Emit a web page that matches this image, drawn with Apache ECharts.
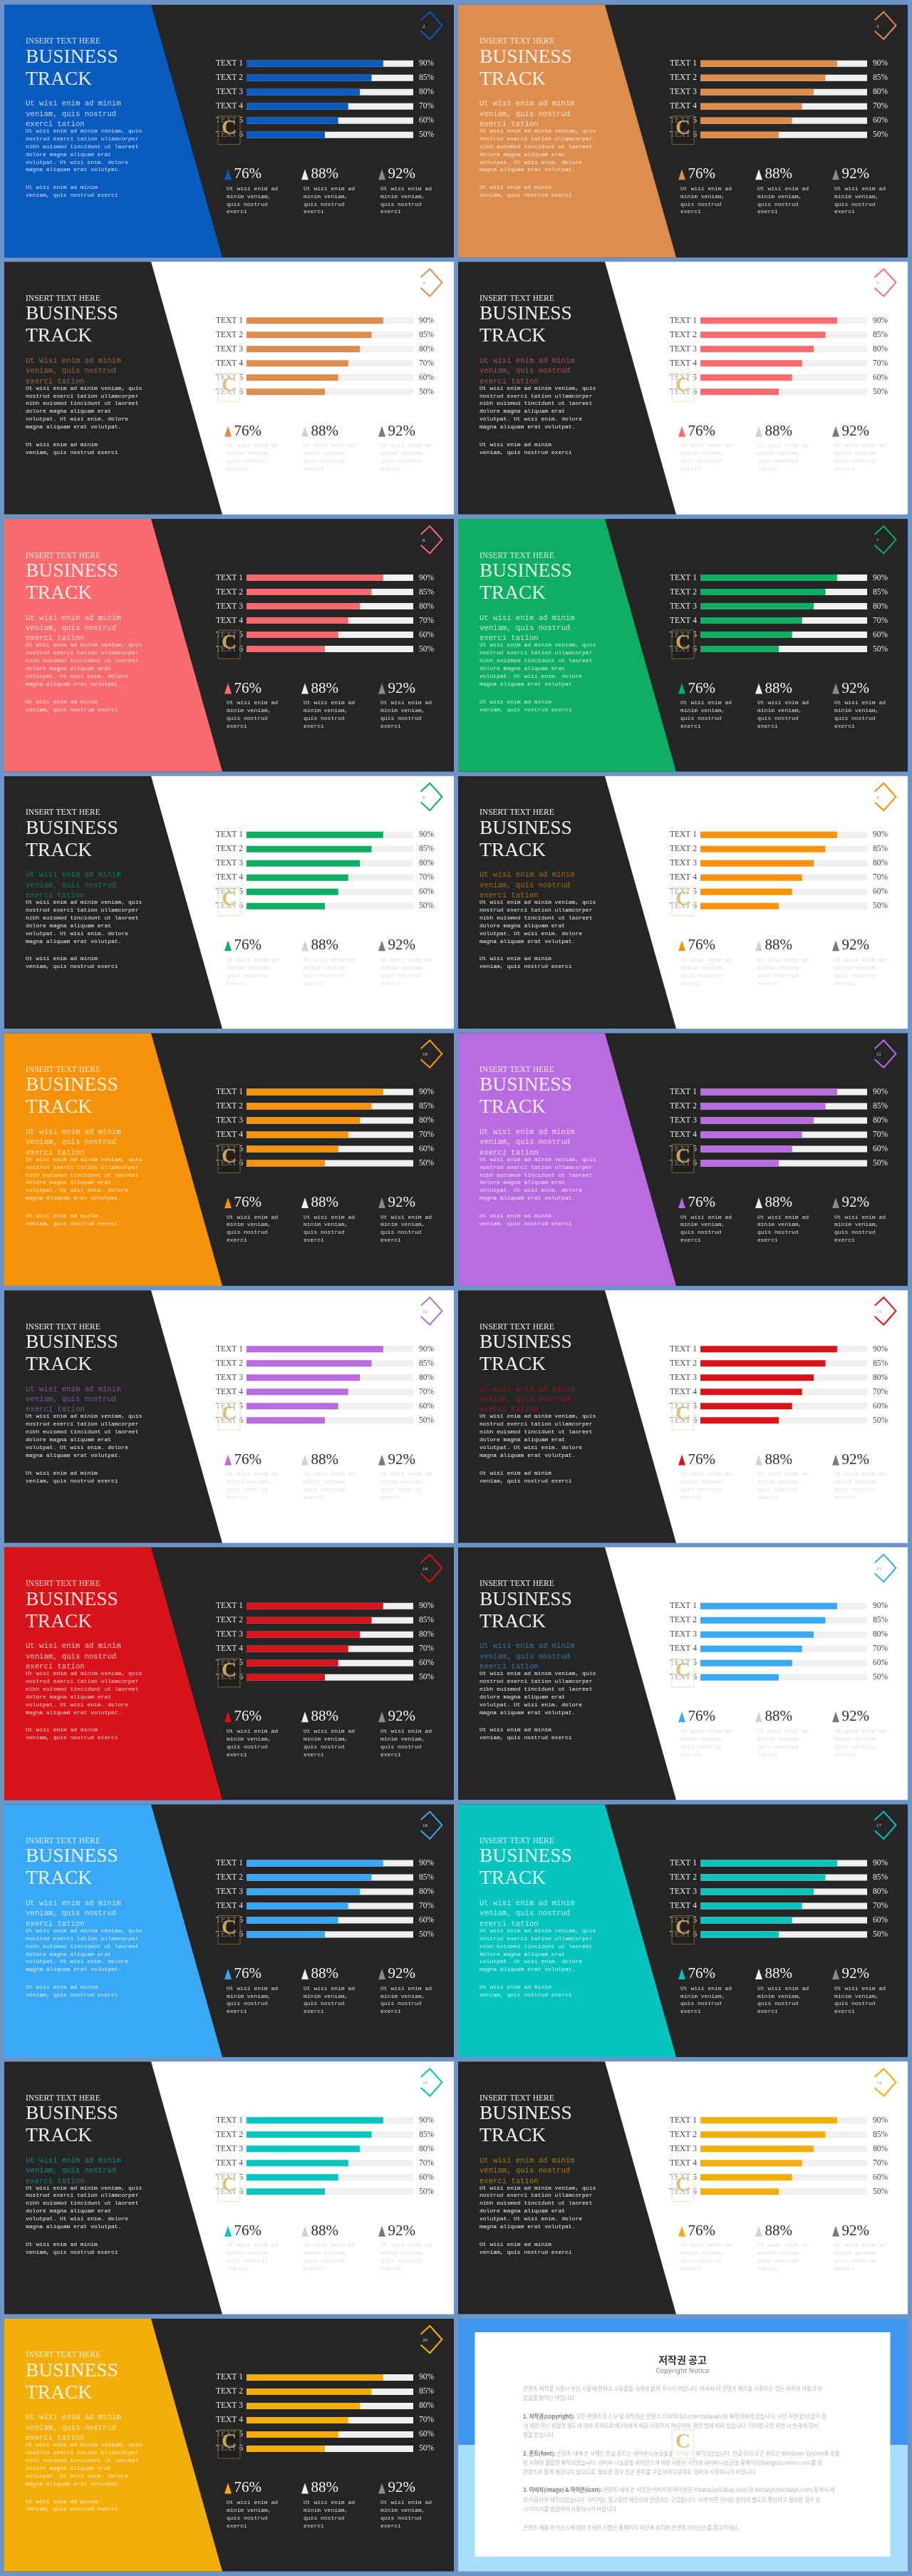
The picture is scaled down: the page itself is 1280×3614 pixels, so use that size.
<!DOCTYPE html>
<html>
<head>
<meta charset="utf-8">
<style>html,body{margin:0;padding:0;background:#6d94c6}#c{width:1280px;height:3614px}</style>
<script src="https://cdn.jsdelivr.net/npm/echarts@6/dist/echarts.min.js"></script>
</head>
<body>
<div id="c"></div>
<script>
// ---- data ----
const barCategories = ['TEXT 1','TEXT 2','TEXT 3','TEXT 4','TEXT 5','TEXT 6'];
const barFill = [82, 75, 68, 61, 55, 47];
const barPercentLabels = ['90%','85%','80%','70%','60%','50%'];
const kpiCategories = ['KPI 1','KPI 2','KPI 3'];
const kpiValues = [76, 88, 92];
const slideAccents = ['#0a5bbf','#dd8d4e','#dd8d4e','#f96b6e','#f96b6e','#0fae63','#0fae63','#f7930a','#f7930a','#b96cdf','#b96cdf','#d9131a','#d9131a','#3aa9f5','#3aa9f5','#05c4bd','#05c4bd','#f4ae0a','#f4ae0a'];
const slideVariants = ['A','A','B','B','A','A','B','B','A','A','B','B','A','B','A','A','B','B','A'];
const pageNumbers = ['2','3','4','5','6','7','8','9','10','11','12','13','14','15','16','17','18','19','20'];
const eyebrow = 'INSERT TEXT HERE';
const titleLines = ['BUSINESS','TRACK'];
const subHeading = 'Ut wisi enim ad minim\nveniam, quis nostrud\nexerci tation';
const bodyText = 'Ut wisi enim ad minim veniam, quis\nnostrud exerci tation ullamcorper\nnibh euismod tincidunt ut laoreet\ndolore magna aliquam erat\nvolutpat. Ut wisi enim. dolore\nmagna aliquam erat volutpat.';
const footText = 'Ut wisi enim ad minim\nveniam, quis nostrud exerci';
const kpiCaption = 'Ut wisi enim ad\nminim veniam,\nquis nostrud\nexerci';
const noticeTitle = '저작권 공고';
const noticeSub = 'Copyright Notice';
const noticeLines = [
 ['', '콘텐츠 제작물 사용시 본인 사용에 한하고 소유물을 사례와 밝혀 주시기 바랍니다. 따라서 이 콘텐츠 제작물 사용하는 것은 저작권 사용과 보호에 동의하시는 것입니다'],
 ['', '셨음을 밝히는 바입니다.'],
 ['1. 저작권(copyright): ', '모든 콘텐츠의 소유 및 저작권은 콘텐츠 디자이너(Contentsdavao)와 제작자에게 있습니다. 사전 서면 합의 없이 결합하여 제공, 구입한 콘텐츠의'],
 ['', '내 계정 아닌 상업적 용도에 따라 목적으로 제3자에게 제공 사용하지 아니하며, 관련 법에 따라 있습니다. 이러한 규정 위반 시 손해에 민사 및 형사상의 처'],
 ['', '벌을 받습니다.'],
 ['2. 폰트(font): ', '콘텐츠 내에 쓴 서체는 한글 폰트는 네이버 나눔글꼴을 저작물로 제작되었습니다. 한글 외의 모든 폰트는 Windows System에 포함'],
 ['', '된 서체와 결합된 제작되었습니다. 네이버 나눔글꼴 라이선스에 대한 사항은 사전에 네이버 나눔글꼴 홈페이지(hangeul.naver.com)를 참고하세요. 폰트는'],
 ['', '콘텐츠와 함께 제공되지 않으므로, 필요한 경우 전문 폰트를 구입하여 다운로드 받아야 사용하시기 바랍니다.'],
 ['3. 이미지(image) & 아이콘(icon): ', '콘텐츠 내에 쓴 사진은 이미지와 아이콘은 Pixabay(pixabay.com)와 Webalys(iwebalys.com) 등에서 제공된 것을 저작물'],
 ['', '로 이용하여 제작되었습니다. 이미지는 참고용만 제공되며 콘텐츠는 구입합니다. 이에 따른 권리는 원저자 별도로 확인하고 필요한 경우 원저를 취득하여'],
 ['', '나 이미지를 변경하여 사용하시기 바랍니다.'],
 ['', '콘텐츠 제품 라이선스에 대한 자세한 사항은 홈페이지 하단에 위치한 콘텐츠 라이선스를 참고하세요.']
];

// ---- layout helpers ----
const COL_X = [6, 643];
const ROW_Y0 = 6.67, ROW_STEP = 360.7;
const SW = 631, SH = 354.5;
const serif = '"Liberation Serif", serif';
const mono = '"Liberation Mono", monospace';
const DARK = '#252525';

const graphics = [], grids = [], xAxes = [], yAxes = [], series = [];

function txt(x, y, text, color, size, family, extra) {
  graphics.push(Object.assign({ type: 'text', x, y, silent: true,
    style: Object.assign({ text, fill: color, fontSize: size, fontFamily: family, align: 'left', verticalAlign: 'middle' }, (extra && extra.style) || {}) },
    extra && extra.z != null ? { z: extra.z } : {}));
}
function watermark(ox, oy, onDark) {
  graphics.push({ type: 'rect', z: 100, silent: true, shape: { x: ox + 300, y: oy + 156, width: 31, height: 40 },
    style: { fill: onDark ? 'rgba(30,28,24,0.55)' : 'rgba(255,255,255,0.5)', stroke: onDark ? '#7a6436' : '#e9dfc6', lineWidth: 1 } });
  txt(ox + 315.5, oy + 174, 'C', onDark ? '#c9a55c' : '#dcc27a', 29, serif, { z: 101, style: { align: 'center', fontWeight: 'bold' } });
}

slideAccents.forEach((accent, i) => {
  const col = i % 2, row = Math.floor(i / 2);
  const ox = COL_X[col], oy = ROW_Y0 + ROW_STEP * row;
  const isA = slideVariants[i] === 'A';
  const panelCol = isA ? accent : DARK;
  const restCol = isA ? DARK : '#ffffff';
  const leftText = isA ? 'rgba(255,255,255,0.8)' : '#eeeeee';
  const rightText = isA ? '#e6e6e6' : '#4a4a4a';

  graphics.push({ type: 'rect', silent: true, shape: { x: ox, y: oy, width: SW, height: SH }, style: { fill: restCol } });
  graphics.push({ type: 'polygon', silent: true, shape: { points: [[ox, oy], [ox + 206, oy], [ox + 306, oy + SH], [ox, oy + SH]] }, style: { fill: panelCol } });
  graphics.push({ type: 'polyline', silent: true,
    shape: { points: [[ox + 584.6, oy + 21.7], [ox + 597.3, oy + 10], [ox + 614.4, oy + 29], [ox + 597.3, oy + 48.3], [ox + 584.6, oy + 36.7]] },
    style: { stroke: accent, lineWidth: 2, fill: 'none' } });
  txt(ox + 587, oy + 30, pageNumbers[i], isA ? '#dddddd' : '#999999', 7, serif);

  txt(ox + 30, oy + 51.5, eyebrow, leftText, 11.5, serif);
  txt(ox + 30, oy + 73.7, titleLines[0], isA ? 'rgba(255,255,255,0.88)' : '#f2f2f2', 27.5, serif);
  txt(ox + 30, oy + 104.7, titleLines[1], isA ? 'rgba(255,255,255,0.88)' : '#f2f2f2', 27.5, serif);
  txt(ox + 30, oy + 131.5, subHeading, isA ? 'rgba(255,255,255,0.72)' : accent, 10.6, mono,
    { style: { verticalAlign: 'top', lineHeight: 14.4, opacity: isA ? 1 : 0.62 } });
  txt(ox + 30, oy + 171.7, bodyText, leftText, 8, mono, { style: { verticalAlign: 'top', lineHeight: 10.9 } });
  txt(ox + 30, oy + 251, footText, leftText, 8, mono, { style: { verticalAlign: 'top', lineHeight: 10.9 } });

  // bar grid
  const g = grids.length;
  grids.push({ left: ox + 340, top: oy + 72.5, width: 234, height: 120 });
  xAxes.push({ gridIndex: g, type: 'value', min: 0, max: 100, show: false });
  yAxes.push({ gridIndex: g, type: 'category', inverse: true, data: barCategories,
    axisLine: { show: false }, axisTick: { show: false }, splitLine: { show: false },
    axisLabel: { color: rightText, fontFamily: serif, fontSize: 11.5, margin: 5, hideOverlap: false, interval: 0 } });
  const yRight = yAxes.length;
  yAxes.push({ gridIndex: g, type: 'category', inverse: true, position: 'right', data: barPercentLabels,
    axisLine: { show: false }, axisTick: { show: false }, splitLine: { show: false },
    axisLabel: { color: rightText, fontFamily: serif, fontSize: 11.5, margin: 8, hideOverlap: false, interval: 0 } });
  series.push({ type: 'bar', xAxisIndex: xAxes.length - 1, yAxisIndex: yRight - 1, data: barFill, barWidth: 9,
    itemStyle: { color: accent }, showBackground: true, backgroundStyle: { color: '#f0f0f0' }, silent: true });

  // KPI grid
  const k = grids.length;
  grids.push({ left: ox + 260, top: oy + 228, width: 324, height: 20 });
  xAxes.push({ gridIndex: k, type: 'category', data: kpiCategories, show: false });
  const kY = yAxes.length;
  yAxes.push({ gridIndex: k, type: 'category', data: ['KPI'], show: false });
  const triColors = [accent, isA ? '#eeeeee' : '#d2d2d2', isA ? '#8a8a8a' : '#7a7a7a'];
  series.push({ type: 'scatter', xAxisIndex: xAxes.length - 1, yAxisIndex: kY, symbol: 'triangle', symbolSize: [10, 15], silent: true,
    data: kpiValues.map((v, j) => ({ value: [j, 0, v], itemStyle: { color: triColors[j], opacity: 1 } })),
    label: { show: true, position: 'right', distance: 3.5, color: isA ? '#f2f2f2' : '#2e2e2e', fontFamily: serif, fontSize: 21,
      formatter: p => p.value[2] + '%' } });
  kpiValues.forEach((v, j) => {
    txt(ox + 312 + 108 * j, oy + 252.5, kpiCaption, isA ? '#dddddd' : '#dcdcdc', 8, mono,
      { style: { verticalAlign: 'top', lineHeight: 10.9 } });
  });

  watermark(ox, oy, isA);
});

// copyright slide
(function () {
  const ox = COL_X[1], oy = ROW_Y0 + ROW_STEP * 9;
  graphics.push({ type: 'rect', silent: true, shape: { x: ox, y: oy, width: SW, height: SH }, style: { fill: '#a7dcfb' } });
  graphics.push({ type: 'rect', silent: true, shape: { x: ox, y: oy, width: SW, height: 177 }, style: { fill: '#3d97ee' } });
  graphics.push({ type: 'rect', silent: true, shape: { x: 666.5, y: oy + 19, width: 583, height: 315 }, style: { fill: '#ffffff' } });
  txt(958, 3311, noticeTitle, '#333333', 14, '"Noto Sans CJK KR"', { style: { align: 'center', fontWeight: 'bold' } });
  txt(958, 3326, noticeSub, '#888888', 9.5, '"Noto Sans", sans-serif', { style: { align: 'center' } });
  const ys = [3350.7, 3364, 3389.7, 3403, 3416, 3442, 3455, 3467.7, 3493, 3506.7, 3519.7, 3545.7];
  noticeLines.forEach((ln, i) => {
    const text = (ln[0] ? '{b|' + ln[0] + '}' : '') + ln[1];
    graphics.push({ type: 'text', silent: true, x: 734, y: ys[i],
      style: { text, fill: '#b6b6b6', fontSize: 7.5, fontFamily: '"Noto Sans CJK KR"', verticalAlign: 'middle', align: 'left',
        width: 449, overflow: 'truncate', ellipsis: '',
        rich: { b: { fill: '#777777', fontSize: 7.5, fontFamily: '"Noto Sans CJK KR"', fontWeight: 'bold' } } } });
  });
  watermark(ox, oy, false);
})();

const chart = echarts.init(document.getElementById('c'), null, { renderer: 'canvas', width: 1280, height: 3614 });
chart.setOption({
  animation: false,
  backgroundColor: '#6d94c6',
  tooltip: { show: false },
  graphic: { elements: graphics },
  grid: grids, xAxis: xAxes, yAxis: yAxes, series
});
</script>
</body>
</html>
